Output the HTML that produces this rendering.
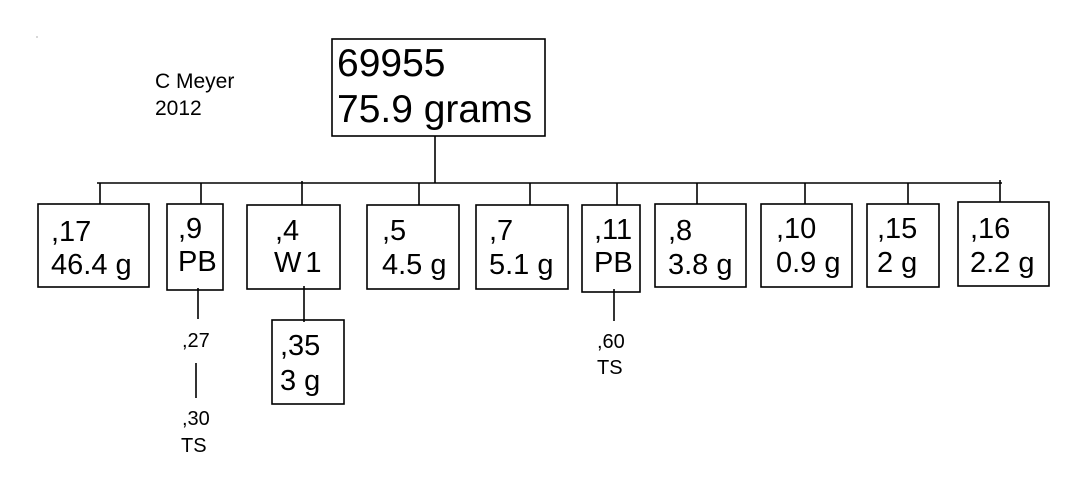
<!DOCTYPE html>
<html><head><meta charset="utf-8"><style>
html,body{margin:0;padding:0;background:#fff;}
svg{display:block;}
text{font-family:"Liberation Sans",Arial,sans-serif;fill:#000;}
</style></head><body>
<svg width="1080" height="478" viewBox="0 0 1080 478" xmlns="http://www.w3.org/2000/svg">
<g fill="none" stroke="#000" stroke-width="1.6">
<rect x="332" y="39" width="213" height="97"/>
<line x1="435" y1="136" x2="435" y2="183"/>
<line x1="97" y1="183" x2="1002" y2="183"/>
<line x1="100" y1="183" x2="100" y2="204"/>
<line x1="201" y1="183" x2="201" y2="204"/>
<line x1="302" y1="181" x2="302" y2="205"/>
<line x1="419" y1="183" x2="419" y2="205"/>
<line x1="530" y1="183" x2="530" y2="205"/>
<line x1="617" y1="183" x2="617" y2="205"/>
<line x1="697" y1="183" x2="697" y2="204"/>
<line x1="805" y1="183" x2="805" y2="204"/>
<line x1="908" y1="183" x2="908" y2="204"/>
<line x1="1000" y1="180" x2="1000" y2="202"/>
<rect x="38" y="204" width="111" height="83"/>
<rect x="167" y="204" width="56" height="86"/>
<rect x="247" y="205" width="93" height="84"/>
<rect x="367" y="205" width="92" height="84"/>
<rect x="476" y="205" width="92" height="84"/>
<rect x="582" y="205" width="58" height="87"/>
<rect x="655" y="204" width="91" height="83"/>
<rect x="761" y="204" width="91" height="83"/>
<rect x="867" y="204" width="72" height="83"/>
<rect x="958" y="202" width="91" height="84"/>
<rect x="272" y="320" width="72" height="84"/>
<line x1="198" y1="288" x2="198" y2="319"/>
<line x1="196" y1="363" x2="196" y2="398"/>
<line x1="304" y1="286" x2="304" y2="322"/>
<line x1="614" y1="289" x2="614" y2="321"/>
</g>
<circle cx="37" cy="37" r="0.6" fill="#777"/>
<text x="155" y="88" font-size="21">C Meyer</text>
<text x="155" y="115" font-size="21">2012</text>
<text x="337" y="76" font-size="39">69955</text>
<text x="337" y="122" font-size="39">75.9 grams</text>
<g font-size="29">
<text x="51" y="241">,17</text><text x="51" y="274">46.4 g</text>
<text x="178" y="238">,9</text><text x="178" y="271">PB</text>
<text x="275" y="240">,4</text><text x="274" y="272" letter-spacing="4">W1</text>
<text x="382" y="240">,5</text><text x="382" y="274">4.5 g</text>
<text x="489" y="240">,7</text><text x="489" y="274">5.1 g</text>
<text x="594" y="239">,11</text><text x="594" y="272">PB</text>
<text x="668" y="240">,8</text><text x="668" y="274">3.8 g</text>
<text x="776" y="238">,10</text><text x="776" y="272">0.9 g</text>
<text x="877" y="238">,15</text><text x="877" y="272">2 g</text>
<text x="970" y="238">,16</text><text x="970" y="272">2.2 g</text>
<text x="280" y="355">,35</text><text x="280" y="390">3 g</text>
</g>
<g font-size="20">
<text x="182" y="347">,27</text>
<text x="182" y="425">,30</text><text x="181" y="452">TS</text>
<text x="597" y="348">,60</text><text x="597" y="374">TS</text>
</g>
</svg>
</body></html>
